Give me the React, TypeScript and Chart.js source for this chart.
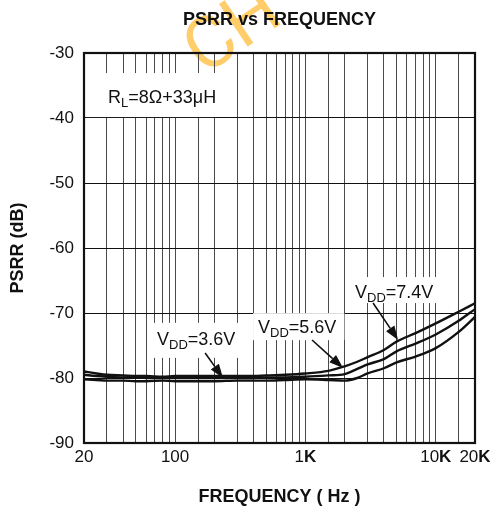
import React, { useEffect, useRef } from "react";
import { Chart, registerables } from "chart.js";

Chart.register(...registerables);

const FONT = '"Liberation Sans", Arial, sans-serif';

// ---- Data ----
const frequencies = [20, 25, 30, 40, 50, 60, 80, 100, 150, 200, 300, 400, 500, 700, 1000, 1500, 2000, 2500, 3000, 4000, 5000, 7000, 10000, 15000, 20000];
const psrrVdd74 = [-79.0, -79.3, -79.5, -79.6, -79.7, -79.7, -79.8, -79.7, -79.7, -79.7, -79.7, -79.7, -79.6, -79.5, -79.3, -78.9, -78.2, -77.5, -76.8, -75.7, -74.4, -73.1, -71.6, -69.8, -68.5];
const psrrVdd56 = [-79.5, -79.7, -79.8, -79.9, -79.9, -80.0, -80.0, -80.0, -80.0, -80.0, -80.0, -80.0, -79.9, -79.9, -79.8, -79.6, -79.4, -78.6, -77.9, -77.1, -75.9, -74.7, -73.3, -71.2, -69.4];
const psrrVdd36 = [-80.2, -80.3, -80.4, -80.4, -80.5, -80.5, -80.4, -80.5, -80.5, -80.5, -80.4, -80.4, -80.4, -80.3, -80.2, -80.3, -80.4, -80.0, -79.3, -78.5, -77.6, -76.7, -75.4, -72.9, -70.6];

const yMin = -90;
const yMax = -30;
const yStep = 10;
const xMin = 20;
const xMax = 20000;

const xTickValues = [20, 100, 1000, 10000, 20000];
const xTickNumbers = ["20", "100", "1", "10", "20"];
const xTickUnits = ["", "", "K", "K", "K"];

const chartTitle = "PSRR vs FREQUENCY";
const xTitle = "FREQUENCY ( Hz )";
const yTitle = "PSRR (dB)";
const watermarkText = "CH";

// annotation texts: [main, subscript, rest]
const noteTexts: [string, string, string][] = [
  ["R", "L", "=8Ω+33μH"],
  ["V", "DD", "=3.6V"],
  ["V", "DD", "=5.6V"],
  ["V", "DD", "=7.4V"],
];
// anchor of each label (frequency, dB) = left / baseline of the text
const noteAnchorFreq = [30.6, 72.7, 433, 2403];
const noteAnchorDb = [-37.7, -74.9, -73.1, -67.7];
// arrows: start (freq, dB) -> tip (freq, dB); null for none
const arrowFromFreq = [null, 170, 1124, 3303];
const arrowFromDb = [null, -76.15, -74.15, -68.46];
const arrowToFreq = [null, 233, 1944, 5139];
const arrowToDb = [null, -80.0, -78.46, -74.15];

// box paddings around label text: [left, right, top(above baseline), bottom(below baseline)]
const notePads: [number, number, number, number][] = [
  [22, 0, 30, 14],
  [7, 7, 22, 13],
  [5, 8, 20, 7],
  [5, 6, 21, 5],
];

function richWidth(ctx: CanvasRenderingContext2D, main: string, sub: string, rest: string, size: number) {
  ctx.font = `${size}px ${FONT}`;
  let w = ctx.measureText(main).width + ctx.measureText(rest).width;
  ctx.font = `${Math.round(size * 0.72)}px ${FONT}`;
  w += ctx.measureText(sub).width;
  return w;
}

function drawRich(ctx: CanvasRenderingContext2D, main: string, sub: string, rest: string, x: number, y: number, size: number) {
  ctx.textAlign = "left";
  ctx.textBaseline = "alphabetic";
  ctx.fillStyle = "#111";
  let cx = x;
  ctx.font = `${size}px ${FONT}`;
  ctx.fillText(main, cx, y);
  cx += ctx.measureText(main).width;
  ctx.font = `${Math.round(size * 0.72)}px ${FONT}`;
  ctx.fillText(sub, cx, y + size * 0.22);
  cx += ctx.measureText(sub).width;
  ctx.font = `${size}px ${FONT}`;
  ctx.fillText(rest, cx, y);
}

const overlayPlugin = {
  id: "psrrOverlay",
  beforeDraw(chart: any) {
    const ctx: CanvasRenderingContext2D = chart.ctx;
    ctx.save();
    ctx.fillStyle = "#ffffff";
    ctx.fillRect(0, 0, chart.width, chart.height);
    // watermark
    ctx.translate(204, 76);
    ctx.rotate((-34 * Math.PI) / 180);
    ctx.font = `400 72px Roboto, ${FONT}`;
    ctx.fillStyle = "rgba(255, 196, 80, 0.85)";
    ctx.textAlign = "left";
    ctx.textBaseline = "alphabetic";
    ctx.fillText(watermarkText, 0, 0);
    ctx.restore();
  },
  beforeDatasetsDraw(chart: any) {
    const ctx: CanvasRenderingContext2D = chart.ctx;
    const xs = chart.scales.x;
    const ys = chart.scales.y;
    ctx.save();
    noteTexts.forEach((t, i) => {
      const x = xs.getPixelForValue(noteAnchorFreq[i]);
      const y = ys.getPixelForValue(noteAnchorDb[i]);
      const w = richWidth(ctx, t[0], t[1], t[2], 18);
      const p = notePads[i];
      ctx.fillStyle = "#ffffff";
      ctx.fillRect(Math.max(x - p[0], chart.chartArea.left + 1), y - p[2], w + p[0] + p[1], p[2] + p[3]);
    });
    ctx.restore();
  },
  afterDatasetsDraw(chart: any) {
    const ctx: CanvasRenderingContext2D = chart.ctx;
    const xs = chart.scales.x;
    const ys = chart.scales.y;
    ctx.save();
    noteTexts.forEach((t, i) => {
      const x = xs.getPixelForValue(noteAnchorFreq[i]);
      const y = ys.getPixelForValue(noteAnchorDb[i]);
      drawRich(ctx, t[0], t[1], t[2], x, y, 18);
      const f0 = arrowFromFreq[i];
      if (f0 !== null) {
        const x0 = xs.getPixelForValue(f0);
        const y0 = ys.getPixelForValue(arrowFromDb[i] as number);
        const x1 = xs.getPixelForValue(arrowToFreq[i] as number);
        const y1 = ys.getPixelForValue(arrowToDb[i] as number);
        const ang = Math.atan2(y1 - y0, x1 - x0);
        const hl = 14;
        const hw = 5;
        const bx = x1 - hl * Math.cos(ang);
        const by = y1 - hl * Math.sin(ang);
        ctx.strokeStyle = "#111";
        ctx.lineWidth = 1.6;
        ctx.beginPath();
        ctx.moveTo(x0, y0);
        ctx.lineTo(bx, by);
        ctx.stroke();
        ctx.fillStyle = "#111";
        ctx.beginPath();
        ctx.moveTo(x1, y1);
        ctx.lineTo(bx + hw * Math.sin(ang), by - hw * Math.cos(ang));
        ctx.lineTo(bx - hw * Math.sin(ang), by + hw * Math.cos(ang));
        ctx.closePath();
        ctx.fill();
      }
    });
    ctx.restore();
  },
  afterDraw(chart: any) {
    const ctx: CanvasRenderingContext2D = chart.ctx;
    const a = chart.chartArea;
    const xs = chart.scales.x;
    ctx.save();
    // border
    ctx.strokeStyle = "#111";
    ctx.lineWidth = 2.2;
    ctx.strokeRect(a.left, a.top, a.right - a.left, a.bottom - a.top);
    // title
    ctx.fillStyle = "#111";
    ctx.textAlign = "center";
    ctx.textBaseline = "middle";
    ctx.font = `bold 18px ${FONT}`;
    ctx.fillText(chartTitle, (a.left + a.right) / 2, 20);
    // x title
    ctx.fillText(xTitle, (a.left + a.right) / 2, 497);
    // y title
    ctx.save();
    ctx.translate(18, (a.top + a.bottom) / 2);
    ctx.rotate(-Math.PI / 2);
    ctx.fillText(yTitle, 0, 0);
    ctx.restore();
    // x tick labels (number regular, unit bold)
    ctx.textBaseline = "alphabetic";
    ctx.textAlign = "left";
    xTickValues.forEach((v, i) => {
      const num = xTickNumbers[i];
      const unit = xTickUnits[i];
      ctx.font = `17px ${FONT}`;
      const wn = ctx.measureText(num).width;
      ctx.font = `bold 17px ${FONT}`;
      const wu = unit ? ctx.measureText(unit).width : 0;
      const cx = xs.getPixelForValue(v);
      const x0 = cx - (wn + wu) / 2;
      ctx.font = `17px ${FONT}`;
      ctx.fillText(num, x0, 462);
      if (unit) {
        ctx.font = `bold 17px ${FONT}`;
        ctx.fillText(unit, x0 + wn, 462);
      }
    });
    ctx.restore();
  },
};

export default function App() {
  const ref = useRef<HTMLCanvasElement | null>(null);
  useEffect(() => {
    document.body.style.margin = "0";
    const canvas = ref.current;
    if (!canvas) return;
    const lineStyle = {
      borderColor: "#111",
      borderWidth: 2.4,
      pointRadius: 0,
      tension: 0.35,
      cubicInterpolationMode: "monotone" as const,
      fill: false,
    };
    const chart = new Chart(canvas, {
      type: "line",
      data: {
        labels: frequencies,
        datasets: [
          { label: "VDD=7.4V", data: frequencies.map((f, i) => ({ x: f, y: psrrVdd74[i] })), ...lineStyle },
          { label: "VDD=5.6V", data: frequencies.map((f, i) => ({ x: f, y: psrrVdd56[i] })), ...lineStyle },
          { label: "VDD=3.6V", data: frequencies.map((f, i) => ({ x: f, y: psrrVdd36[i] })), ...lineStyle },
        ],
      },
      options: {
        animation: false,
        responsive: false,
        devicePixelRatio: 1,
        layout: { padding: { top: 53, right: 16, left: 0, bottom: 0 } },
        plugins: { legend: { display: false }, tooltip: { enabled: false }, title: { display: false } },
        scales: {
          x: {
            type: "logarithmic",
            min: xMin,
            max: xMax,
            border: { display: false },
            grid: { color: "#4a4a4a", lineWidth: 1, drawTicks: false },
            ticks: { display: false, autoSkip: false },
            afterFit: (s: any) => {
              s.height = 66;
            },
          },
          y: {
            type: "linear",
            min: yMin,
            max: yMax,
            border: { display: false },
            grid: { color: "#111", lineWidth: 1, drawTicks: false },
            ticks: {
              stepSize: yStep,
              color: "#111",
              padding: 10,
              font: { family: FONT, size: 17 },
            },
            afterFit: (s: any) => {
              s.width = 84;
            },
          },
        },
      },
      plugins: [overlayPlugin],
    });
    return () => chart.destroy();
  }, []);
  return (
    <div style={{ width: 491, height: 509 }}>
      <canvas ref={ref} width={491} height={509} style={{ display: "block" }} />
    </div>
  );
}
